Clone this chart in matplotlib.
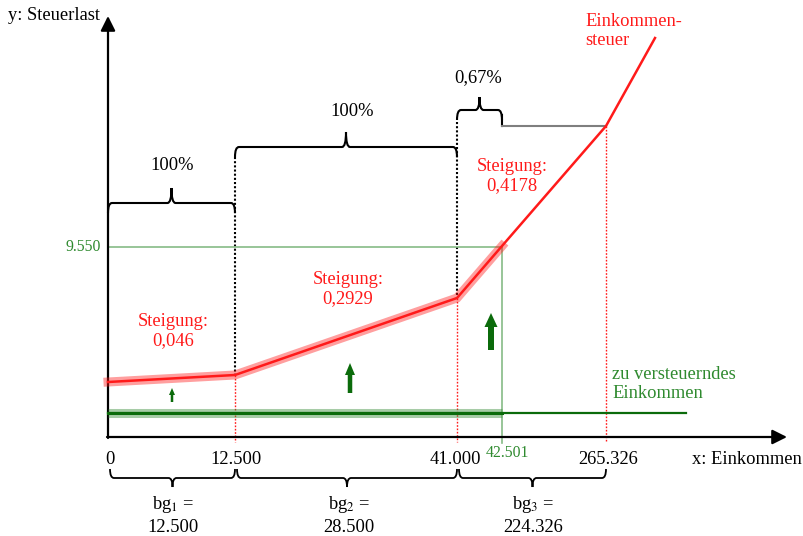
import numpy as np
import matplotlib.pyplot as plt
from matplotlib.path import Path
from matplotlib.patches import PathPatch, FancyArrow

plt.rcParams["font.family"] = ["Liberation Serif", "DejaVu Serif"]
plt.rcParams["mathtext.fontset"] = "stix"

# Skizze (nicht massstaeblich): Einkommensgrenzen und ihre Lage auf der x-Achse
grenzen = ["0", "12.500", "41.000", "265.326"]
grenzen_x = [108, 235, 457, 606]
einkommen_x = 502          # zu versteuerndes Einkommen 42.501
einkommen_label = "42.501"
steuer_y = 247             # Steuerlast 9.550
steuer_label = "9.550"

# Steuerkurve (Skizzenkoordinaten)
kurve_x = [108, 235, 457, 502, 606, 655]
kurve_y = [382, 375, 298, 246, 126, 38]

steigungen = ["0,046", "0,2929", "0,4178"]
anteile = ["100%", "100%", "0,67%"]
bemessung = [r"bg$_1$ =" + "\n12.500", r"bg$_2$ =" + "\n28.500", r"bg$_3$ =" + "\n224.326"]

RED = "#ff1a1a"
GREEN = "#2f8a2f"
DKGREEN = "#0b6b0b"
LTGREEN = "#86bb86"
FS = 13.3

fig = plt.figure(figsize=(8.04, 5.36), dpi=100)
ax = fig.add_axes([0, 0, 1, 1])
ax.set_xlim(0, 804)
ax.set_ylim(536, 0)
ax.axis("off")


def brace(x0, x1, y, tip, arm, color="black", lw=1.5, r=4):
    # tip / arm: Abstand (Vorzeichen = Richtung) von der Grundlinie
    xm = (x0 + x1) / 2
    verts = [(x0, y + arm), (x0, y), (x0 + r, y),
             (xm - r, y), (xm, y), (xm, y + tip),
             (xm, y), (xm + r, y),
             (x1 - r, y), (x1, y), (x1, y + arm)]
    codes = [Path.MOVETO, Path.CURVE3, Path.CURVE3,
             Path.LINETO, Path.CURVE3, Path.CURVE3,
             Path.CURVE3, Path.CURVE3,
             Path.LINETO, Path.CURVE3, Path.CURVE3]
    ax.add_patch(PathPatch(Path(verts, codes), fill=False, ec=color, lw=lw))


# Achsen
x0, y0 = grenzen_x[0], 437
ax.annotate("", xy=(787, y0), xytext=(x0 - 1, y0),
            arrowprops=dict(arrowstyle="-|>", lw=1.6, color="black", mutation_scale=22, shrinkA=0, shrinkB=0))
ax.annotate("", xy=(x0, 16), xytext=(x0, y0 + 1),
            arrowprops=dict(arrowstyle="-|>", lw=1.6, color="black", mutation_scale=22, shrinkA=0, shrinkB=0))
ax.text(8, 15, "y: Steuerlast", fontsize=FS, ha="left", va="center")
ax.text(692, 459, "x: Einkommen", fontsize=FS, ha="left", va="center")

# Hilfslinien
for gx, gy in zip(grenzen_x[1:], [375, 298, 126]):
    ax.plot([gx, gx], [gy, 442], color=RED, lw=1, ls=(0, (1.2, 1.2)), zorder=2)
ax.plot([235, 235], [157, 375], color="black", lw=1.5, ls=(0, (1, 1)), zorder=2)
ax.plot([457, 457], [122, 298], color="black", lw=1.5, ls=(0, (1, 1)), zorder=2)

ax.plot([x0, einkommen_x], [steuer_y, steuer_y], color=LTGREEN, lw=1.2, zorder=2)
ax.plot([einkommen_x, einkommen_x], [steuer_y, 443], color=LTGREEN, lw=1.2, zorder=2)
ax.text(101, steuer_y, steuer_label, fontsize=11.3, color=GREEN, ha="right", va="center")
ax.text(einkommen_x + 6, 453, einkommen_label, fontsize=11.3, color=GREEN, ha="center", va="center")

# zu versteuerndes Einkommen
ax.plot([x0, einkommen_x], [413, 413], color="#3c8f3c", lw=6.5, alpha=0.45, solid_capstyle="butt", zorder=3)
ax.plot([x0, 686], [413, 413], color=DKGREEN, lw=1.6, zorder=4)
ax.plot([x0, einkommen_x], [413, 413], color=DKGREEN, lw=2.2, zorder=4)
ax.text(612, 384, "zu versteuerndes\nEinkommen", fontsize=FS, color=GREEN,
        ha="left", va="center", linespacing=1.15)

# Steuerkurve
kx = np.array(kurve_x)
ky = np.array(kurve_y)
ax.plot(kx[:4], ky[:4], color=RED, lw=6.5, alpha=0.42, solid_joinstyle="miter", zorder=5)
ax.plot(kx, ky, color=RED, lw=1.8, zorder=6)
ax.text(585, 31, "Einkommen-\nsteuer", fontsize=FS, color=RED, ha="left", va="center", linespacing=1.15)

for (tx, ty), s in zip([(173, 331), (348, 289), (512, 176)], steigungen):
    ax.text(tx, ty, "Steigung:\n" + s, fontsize=FS, color=RED, ha="center", va="center", linespacing=1.15)

# gruene Pfeile
for ax_x, yb, yt, w, hw, hl in [(172, 402, 388, 2.5, 6, 7), (350, 393, 363, 4.5, 10, 12), (491, 350, 313, 6, 13, 14)]:
    ax.add_patch(FancyArrow(ax_x, yb, 0, yt - yb, width=w, head_width=hw, head_length=hl,
                            length_includes_head=True, color=DKGREEN, lw=0, zorder=6))

# obere Klammern
brace(108, 235, 203, -15, 10)
brace(235, 457, 147, -15, 10)
brace(457, 502, 110, -13, 10)
ax.plot([502, 502], [115, 126], color="black", lw=1.5)
ax.plot([502, 606], [126, 126], color="#7f7f7f", lw=1.5)
for (tx, ty), s in zip([(172, 166), (352, 111), (478, 78)], anteile):
    ax.text(tx, ty, s, fontsize=FS, ha="center", va="center")

# x-Beschriftung
for gx, lab in zip([110, 236, 455, 608], grenzen):
    ax.text(gx, 459, lab, fontsize=FS, ha="center", va="center")

# untere Klammern
for a, b in zip(grenzen_x[:-1], grenzen_x[1:]):
    brace(a + 2, b, 478, 9, -9, lw=1.3)
for (tx, ty), s in zip([(173, 515), (349, 515), (533, 515)], bemessung):
    ax.text(tx, ty, s, fontsize=FS, ha="center", va="center", linespacing=1.3)

fig.savefig("out.png", dpi=100)
